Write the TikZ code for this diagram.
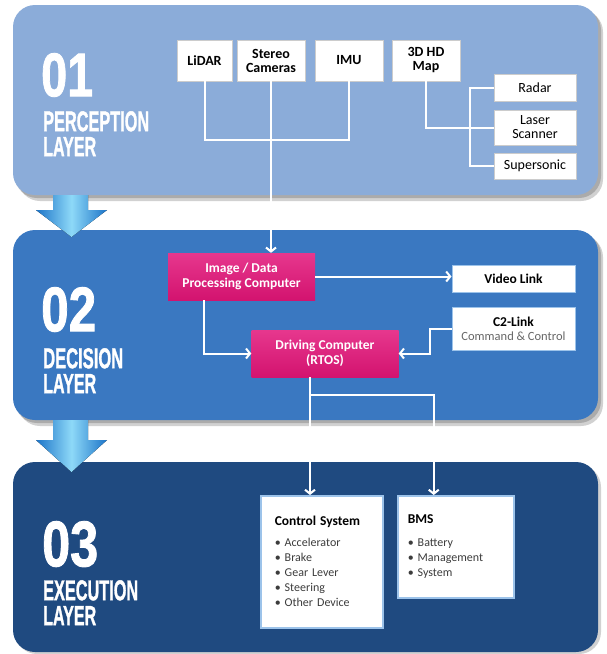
\documentclass[tikz,border=0pt]{standalone}
\usepackage{fontspec}
\setmainfont{Carlito}
\newfontfamily\headfont{Liberation Sans}[BoldFeatures={FakeBold=1.5}]
\usetikzlibrary{arrows.meta}
\definecolor{layerone}{HTML}{8BACD9}
\definecolor{layertwo}{HTML}{3A78C1}
\definecolor{layerthree}{HTML}{1F4A80}
\definecolor{procpink}{HTML}{E31C7E}
\definecolor{procpinkdark}{HTML}{D3136F}
\definecolor{boxedge}{HTML}{9CC3EA}
\definecolor{arrowdark}{HTML}{1C74C8}
\definecolor{arrowlight}{HTML}{8ED9F8}
\definecolor{bullettext}{HTML}{3C3C3C}
\newcommand{\squeeze}[3]{\resizebox{#1}{#2}{\headfont\bfseries #3}}
\tikzset{
  panel/.style={rounded corners=22pt},
  panelshadow/.style={panel, fill=black, opacity=0.18},
  headtxt/.style={anchor=north west, inner sep=0pt, text=white},
  sensor/.style={draw=black!20, fill=white, align=center, inner sep=1pt, font=\bfseries\fontsize{14}{14}\selectfont},
  sidesensor/.style={draw=black!20, fill=white, align=center, inner sep=1pt, minimum width=82pt, font=\fontsize{14}{14}\selectfont},
  proc/.style={top color=procpink!88!white, bottom color=procpinkdark, text=white, align=center, minimum width=147pt, minimum height=47pt, font=\bfseries\fontsize{13.5}{15}\selectfont},
  linkbox/.style={draw=boxedge, line width=1pt, fill=white, align=center, minimum width=123pt, font=\bfseries\fontsize{13.5}{14}\selectfont},
  listbox/.style={draw=boxedge, line width=1.5pt, fill=white, anchor=north west, align=left, text=bullettext, font=\fontsize{12}{15}\selectfont},
  wire/.style={white, line width=2pt},
  arr/.style={wire, -{Straight Barb[length=4pt,width=10pt]}},
  bigarrow/.style={left color=arrowdark, right color=arrowdark, middle color=arrowlight},
}

\begin{document}
\begin{tikzpicture}[x=1pt, y=-1pt]
    \useasboundingbox (0,0) rectangle (607,654);

    % layer panels
    \fill[panelshadow] (18,10) rectangle (603,201);
    \fill[panelshadow] (15,8) rectangle (601,198);
    \fill[panel, fill=layerone] (13,5) rectangle (598,195);
    \fill[panelshadow] (18,235) rectangle (603,426);
    \fill[panelshadow] (15,233) rectangle (601,423);
    \fill[panel, fill=layertwo] (13,230) rectangle (598,420);
    \fill[panelshadow] (15,465) rectangle (601,654);
    \fill[panel, fill=layerthree] (13,462) rectangle (598,652);

    % arrows between layers
    \fill[bigarrow] (53,195) -- (88,195) -- (88,210) -- (107,210) -- (71.5,237) -- (36,210) -- (53,210) -- cycle;
    \fill[bigarrow] (53,420) -- (88,420) -- (88,440) -- (107,440) -- (71.5,472) -- (36,440) -- (53,440) -- cycle;

    % layer titles
    \node[headtxt] (num1) at (41,53) {\squeeze{52pt}{43pt}{01}};
    \node[headtxt] (name1) at (43,111) {\squeeze{106pt}{20pt}{PERCEPTION}};
    \node[headtxt] (lay1) at (43,137) {\squeeze{53pt}{19pt}{LAYER}};
    \node[headtxt] (num2) at (41,287) {\squeeze{55pt}{44pt}{02}};
    \node[headtxt] (name2) at (43,348) {\squeeze{80pt}{20pt}{DECISION}};
    \node[headtxt] (lay2) at (43,374) {\squeeze{53pt}{19pt}{LAYER}};
    \node[headtxt] (num3) at (42,521) {\squeeze{56pt}{45pt}{03}};
    \node[headtxt] (name3) at (43,580) {\squeeze{95pt}{20pt}{EXECUTION}};
    \node[headtxt] (lay3) at (43,606) {\squeeze{53pt}{19pt}{LAYER}};

    % perception
    \node[sensor, minimum width=55pt, minimum height=41pt] (lidar) at (204.5,60.5) {LiDAR};
    \node[sensor, minimum width=68pt, minimum height=41pt] (stereo) at (271,60.5) {Stereo\\Cameras};
    \node[sensor, minimum width=68pt, minimum height=41pt] (imu) at (349,60.5) {IMU};
    \node[sensor, minimum width=68pt, minimum height=41pt] (hdmap) at (426,60.5) {3D HD\\Map};
    \node[sidesensor, minimum height=27pt] (radar) at (535,87.5) {Radar};
    \node[sidesensor, minimum height=35pt] (laser) at (535,127.5) {Laser\\Scanner};
    \node[sidesensor, minimum height=26pt] (sonic) at (535,166) {Supersonic};
    \coordinate (bus) at (300,140);
    \coordinate (trunk) at (470,0);
    \draw[wire] (lidar.south) |- (imu.south |- bus) -- (imu.south);
    \draw[wire] (hdmap.south) |- (laser.west);
    \draw[wire] (radar.west) -| (trunk |- sonic.west) -- (sonic.west);

    % decision
    \node[proc] (imgproc) at (241.5,276.5) {Image / Data\\Processing Computer};
    \node[proc] (driving) at (325,353.5) {Driving Computer\\(RTOS)};
    \node[linkbox, minimum height=27pt] (video) at (513.5,278.5) {Video Link};
    \node[linkbox, minimum height=43pt] (c2) at (513.5,328.5) {C2-Link\\{\mdseries\color{black!60}\fontsize{12.5}{14}\selectfont Command \& Control}};
    \coordinate (c2knee) at ([xshift=-22pt]c2.west);
    \draw[arr] (stereo.south) -- (stereo.south |- imgproc.north);
    \draw[arr] (imgproc.east) -- (imgproc.east -| video.west);
    \draw[arr] ([xshift=-38pt]imgproc.south) |- (driving.west);
    \draw[arr, {Straight Barb[length=4pt,width=10pt]}-] (driving.east) -| (c2knee) -- (c2.west);

    % execution
    \node[listbox, minimum width=122pt, minimum height=132pt, inner xsep=14pt, text width=94pt] (ctrl) at (260,495)
        {\mbox{\color{black}\bfseries\fontsize{13.5}{15}\selectfont Control System}\\[6pt]
         \textbullet~Accelerator\\ \textbullet~Brake\\ \textbullet~Gear Lever\\ \textbullet~Steering\\ \textbullet~Other Device};
    \node[listbox, minimum width=116pt, minimum height=102pt, inner xsep=10pt, text width=96pt] (bms) at (397,495)
        {{\color{black}\bfseries\fontsize{13.5}{15}\selectfont BMS}\\[8pt]
         \textbullet~Battery\\ \textbullet~Management\\ \textbullet~System};
    \coordinate (split) at (310,395);
    \draw[arr] (driving.south -| split) -- (ctrl.north -| split);
    \draw[arr] (split) -| ([xshift=-22pt]bms.north);
\end{tikzpicture}
\end{document}
